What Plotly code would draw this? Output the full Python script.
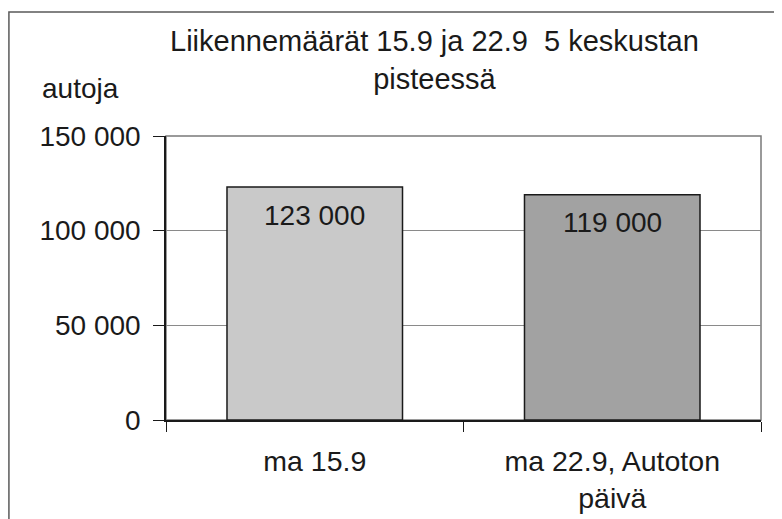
import plotly.graph_objects as go

categories = ["ma 15.9", "ma 22.9, Autoton<br>päivä"]
values = [123000, 119000]
value_labels = ["123 000", "119 000"]
tick_vals = [0, 50000, 100000, 150000]
tick_text = ["0", "50 000", "100 000", "150 000"]
title_text = "Liikennemäärät 15.9 ja 22.9  5 keskustan<br>pisteessä"
y_label = "autoja"
bar_colors = ["#c9c9c9", "#a2a2a2"]

FONT = "Liberation Sans, Arial, sans-serif"
INK = "#1a1a1a"

fig = go.Figure()
fig.add_trace(go.Bar(
    x=categories, y=values,
    marker=dict(color=bar_colors, line=dict(color=INK, width=1.5)),
    hoverinfo="x+y",
))

annotations = [
    dict(text=title_text, xref="paper", yref="paper", x=0.452, y=1.268,
         showarrow=False, xanchor="center", yanchor="middle", align="center",
         font=dict(family=FONT, size=29, color=INK)),
    dict(text=y_label, xref="paper", yref="paper", x=-0.143, y=1.169,
         showarrow=False, xanchor="center", yanchor="middle",
         font=dict(family=FONT, size=28, color=INK)),
]
for cat, val, lab in zip(categories, values, value_labels):
    annotations.append(dict(text=lab, x=cat, y=val, xref="x", yref="y",
                            showarrow=False, xanchor="center", yanchor="middle",
                            yshift=-28, font=dict(family=FONT, size=28, color=INK)))

fig.update_layout(
    width=782, height=519,
    margin=dict(l=158, r=29, t=128, b=107, autoexpand=False),
    paper_bgcolor="white", plot_bgcolor="white",
    showlegend=False,
    bargap=0.41,
    font=dict(family=FONT, size=28, color=INK),
    xaxis=dict(
        automargin=False,
        showline=True, linecolor=INK, linewidth=1.5,
        ticks="outside", ticklen=10, tickcolor=INK, tickson="boundaries",
        tickfont=dict(family=FONT, size=28.5, color=INK),
        ticklabelstandoff=15,
        showgrid=False,
    ),
    yaxis=dict(
        automargin=False,
        range=[0, 150000], tickvals=tick_vals, ticktext=tick_text,
        showline=True, linecolor=INK, linewidth=1.5,
        ticks="outside", ticklen=11, tickcolor=INK,
        tickfont=dict(family=FONT, size=28, color=INK),
        ticklabelstandoff=7,
        showgrid=True, gridcolor="#8a8a8a", gridwidth=1,
        zeroline=False,
    ),
    annotations=annotations,
    shapes=[
        dict(type="rect", xref="paper", yref="paper", x0=0, x1=1, y0=0, y1=1,
             line=dict(color="#7a7a7a", width=1.5), layer="below"),
        dict(type="rect", xref="paper", yref="paper", x0=-0.264, x1=1.2, y0=-0.6, y1=1.437,
             line=dict(color="#5a5a5a", width=1.5), layer="below"),
    ],
)

fig.write_html("out.html")
